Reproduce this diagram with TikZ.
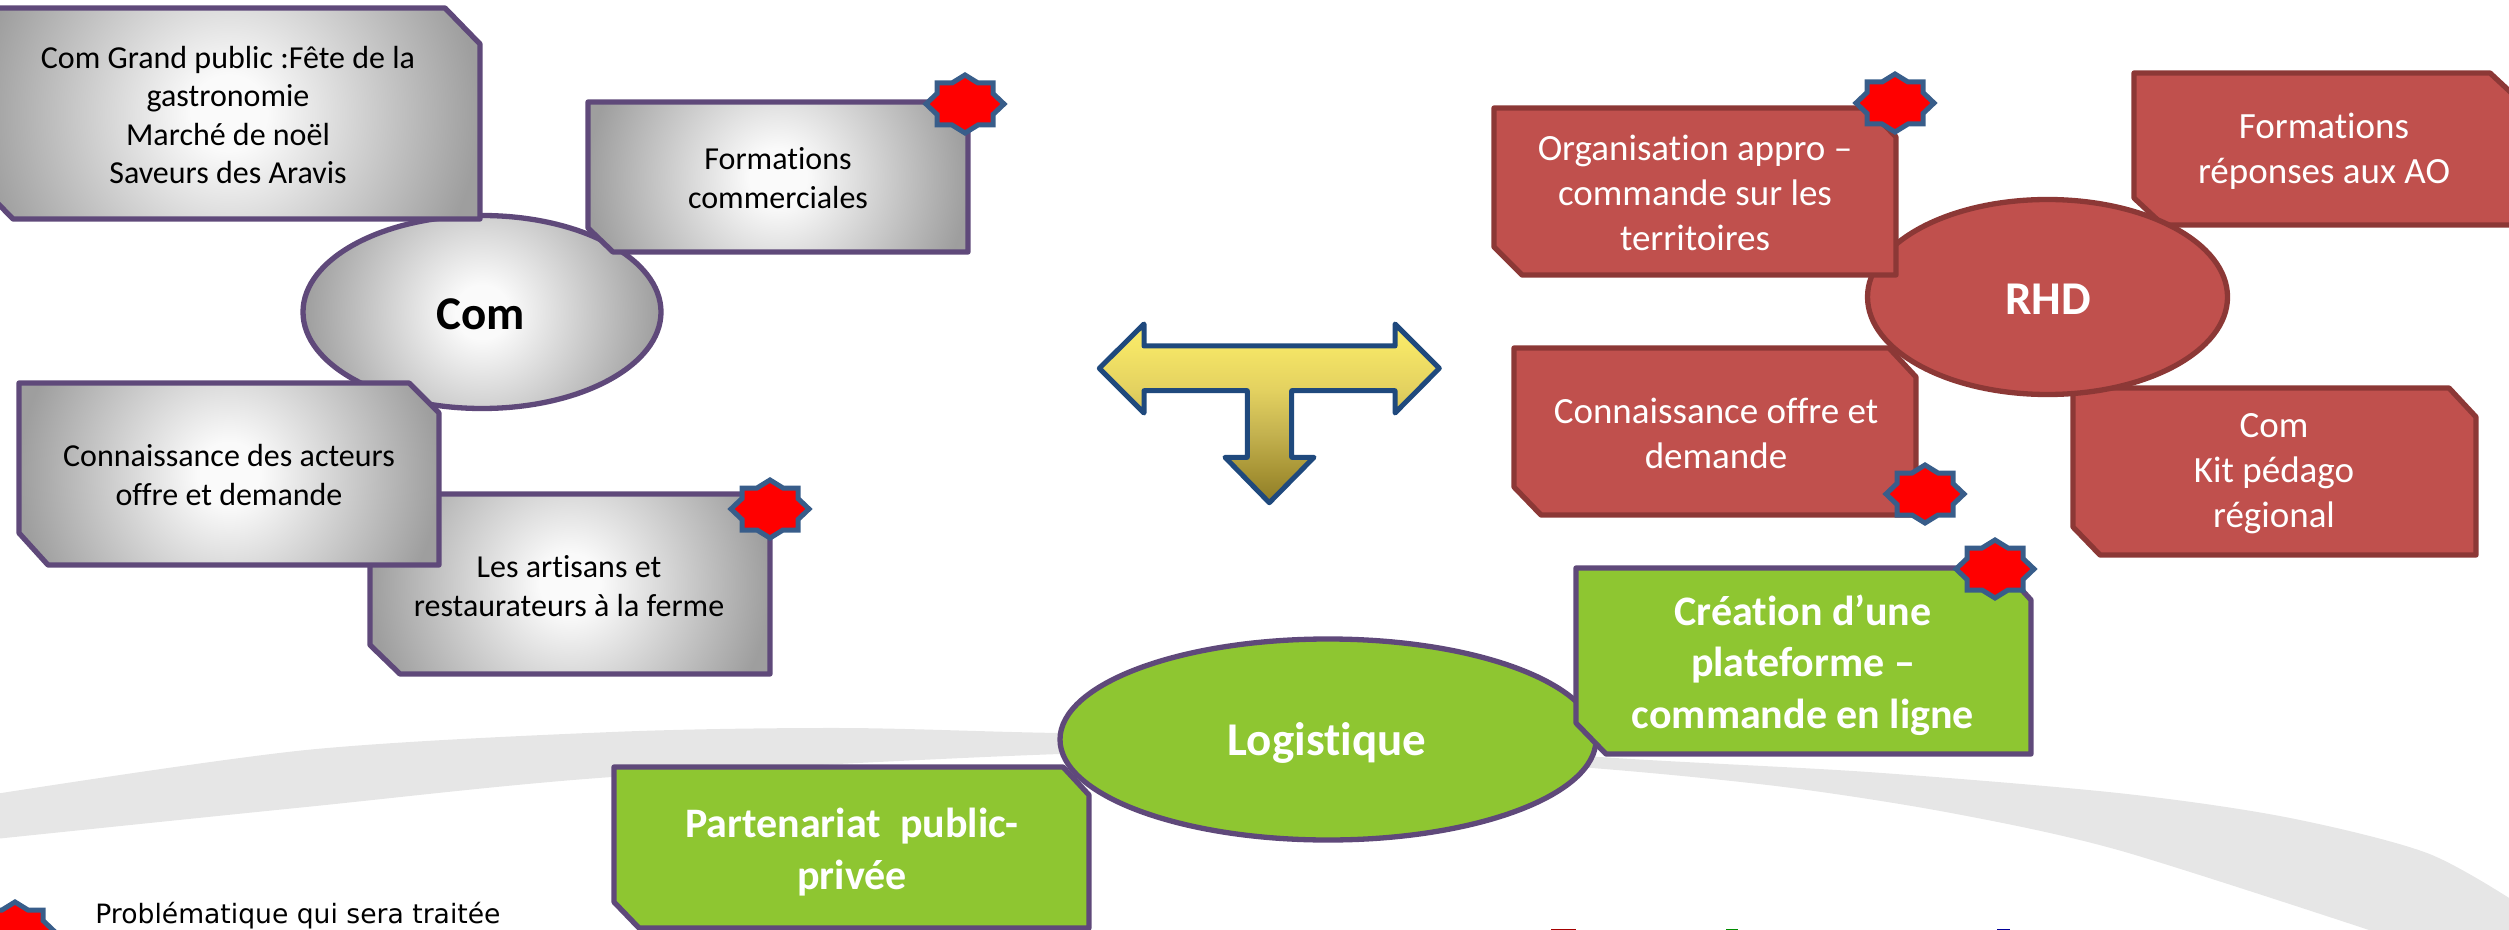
\documentclass[tikz,border=0pt]{standalone}
\usepackage{fontspec}
\setmainfont{Carlito}[Ligatures=CommonOff]
\newfontfamily\legendfont{DejaVu Sans}
\definecolor{glowA}{HTML}{FAFAFA}
\definecolor{glowB}{HTML}{9E9E9E}
\definecolor{purpleedge}{HTML}{5F497A}
\definecolor{rededge}{HTML}{8C3836}
\definecolor{redfill}{HTML}{C0504D}
\definecolor{greenfill}{HTML}{8EC631}
\definecolor{staredge}{HTML}{385D8A}
\definecolor{arrowedge}{HTML}{1F497D}
\definecolor{swooshgrey}{HTML}{E6E6E6}
\definecolor{arA}{HTML}{FAEC6C}
\definecolor{arB}{HTML}{F5E566}
\definecolor{arC}{HTML}{E3D160}
\definecolor{arD}{HTML}{C4B24F}
\definecolor{arE}{HTML}{A69334}
\definecolor{arF}{HTML}{8E7C27}
\pgfdeclareradialshading{grayglow}{\pgfpointorigin}{color(0bp)=(glowA);color(1.9bp)=(glowA);color(12.5bp)=(glowB);color(50bp)=(glowB)}
\pgfdeclareverticalshading{arrowgrad}{100bp}{color(0bp)=(arF);color(25bp)=(arF);color(33.2bp)=(arE);color(44.4bp)=(arD);color(56.5bp)=(arC);color(68.6bp)=(arB);color(75bp)=(arA);color(100bp)=(arA)}
\tikzset{
  glowedge/.style={draw=purpleedge,line width=2.65pt,line join=round},
  redshape/.style={draw=rededge,fill=redfill,line width=2.65pt,line join=round},
  greenshape/.style={draw=purpleedge,fill=greenfill,line width=2.65pt,line join=round},
  lblgray/.style={inner sep=0pt,align=center,text=black,font=\fontsize{16}{19.3}\selectfont},
  lblred/.style={inner sep=0pt,align=center,text=white,font=\fontsize{18.5}{22.5}\selectfont},
  lblgreen/.style={inner sep=0pt,align=center,text=white,font=\bfseries\fontsize{21}{25.75}\selectfont},
  lblbig/.style={inner sep=0pt,align=center,font=\bfseries\fontsize{23.5}{28}\selectfont},
  redstar/.pic={\draw[draw=staredge,fill=red,line width=2.5pt,line join=miter]
    (0,-29)--(13,-21)--(28,-21)--(28,-10.5)--(39,0)--(28,10.5)--(28,21)--(13,21)--(0,29)
    --(-13,21)--(-28,21)--(-28,10.5)--(-39,0)--(-28,-10.5)--(-28,-21)--(-13,-21)--cycle;}
}
\newcommand{\glowshape}[4]{%
  \begin{scope}\clip #1;\shade[shading=grayglow] (#2,#3) circle [radius=2*#4];\end{scope}
  \draw[glowedge] #1;}
\begin{document}
\begin{tikzpicture}[x=0.5pt,y=-0.5pt]
\useasboundingbox (0,0) rectangle (2509,930);
\clip (0,0) rectangle (2509,930);
% swoosh
\fill[swooshgrey] plot[smooth] coordinates {(-5,794)(306,750)(612,732)(842,728)(1060,733)(1340,735)(1600,757)(1868,772)(2118,793)(2285,817)(2427,853)(2520,905)}
  -- (2520,940) -- (2381,940) -- plot[smooth] coordinates {(2369,930)(2118,850)(1951,813)(1784,787)(1592,768)(1340,752)(1060,754)(612,777)(306,807)(-5,839)} -- cycle;
% Com group
\glowshape{(482,312) ellipse [x radius=179,y radius=96.5]}{482}{312}{178}
\glowshape{(-22,8)--(445,8)--(480,44)--(480,219)--(13,219)--(-22,183)--cycle}{229}{113}{250}
\glowshape{(588,102)--(943,102)--(968,130)--(968,252)--(613,252)--(588,228)--cycle}{778}{177}{190}
\glowshape{(370,494)--(745,494)--(770,522)--(770,674)--(400,674)--(370,645)--cycle}{570}{584}{200}
\glowshape{(19,383)--(409,383)--(439,413)--(439,565)--(48,565)--(19,533)--cycle}{229}{474}{210}
\node[lblgray] (t1) at (228,115) {Com Grand public :Fête de la\\gastronomie\\Marché de noël\\Saveurs des Aravis};
\node[lblgray] (t2) at (778,178) {Formations\\commerciales};
\node[lblgray] (t3) at (229,475) {Connaissance des acteurs\\offre et demande};
\node[lblgray] (t4) at (569,586) {Les artisans et\\restaurateurs à la ferme};
\node[lblbig,text=black] (com) at (481,314) {Com};
\pic at (965,104) {redstar};
\pic at (770,509) {redstar};
% T arrow
\shadedraw[shading=arrowgrad,draw=arrowedge,line width=2.5pt,line join=round]
 (1099.3,368.3)--(1144,324)--(1144,346)--(1395,346)--(1395,324)--(1439.3,368.3)--(1395,413)--(1395,390.7)--(1291.7,390.7)--(1291.7,457.3)--(1314,457.3)--(1269.3,502.7)--(1225,457.3)--(1247.3,457.3)--(1247.3,390.7)--(1144,390.7)--(1144,413)--cycle;
% RHD group
\draw[redshape] (2134,73)--(2490,73)--(2519,100)--(2519,225)--(2163,225)--(2134,198)--cycle;
\draw[redshape] (1514,348)--(1889,348)--(1916,377)--(1916,515)--(1541,515)--(1514,487)--cycle;
\draw[redshape] (2073,388)--(2449,388)--(2476,417)--(2476,555)--(2100,555)--(2073,527)--cycle;
\draw[redshape] (2047.5,297) ellipse [x radius=180,y radius=97.5];
\draw[redshape] (1494,108)--(1868,108)--(1896,137)--(1896,275)--(1522,275)--(1494,247)--cycle;
\node[lblred] (t5) at (1695,193) {Organisation appro –\\commande sur les\\territoires};
\node[lblred] (t6) at (2324,151) {Formations\\réponses aux AO};
\node[lblred] (t7) at (1716,433) {Connaissance offre et\\demande};
\node[lblred] (t8) at (2274,474) {Com\\Kit pédago\\régional};
\node[lblbig,text=white] (rhd) at (2048,299) {RHD};
\pic at (1895,103) {redstar};
\pic at (1925,494) {redstar};
% Logistique group
\draw[greenshape] (1328,739.5) ellipse [x radius=268,y radius=100.5];
\draw[greenshape] (614,767)--(1063,767)--(1089,795)--(1089,928)--(639,928)--(614,902)--cycle;
\draw[greenshape] (1576,568)--(2002,568)--(2031,600)--(2031,754)--(1606,754)--(1576,723)--cycle;
\node[lblgreen] (t9) at (852,852) {Partenariat\ \ public-\\privée};
\node[lblgreen] (t10) at (1803,665) {Création d’une\\plateforme –\\commande en ligne};
\node[lblbig,text=white] (log) at (1327,743) {Logistique};
\pic at (1995,569) {redstar};
% legend
\pic at (15,931) {redstar};
\node[inner sep=0pt,anchor=base west,font=\legendfont\fontsize{13.3}{16}\selectfont] (leg) at (95,923) {Problématique qui sera traitée};
% clipped letter tops at the bottom edge
\fill[red!65!black] (1551,928.5) rectangle (1576,931);
\fill[green!55!black] (1726,928.5) rectangle (1738,931);
\fill[blue!60!black] (1997,928.5) rectangle (2010,931);
\end{tikzpicture}
\end{document}
